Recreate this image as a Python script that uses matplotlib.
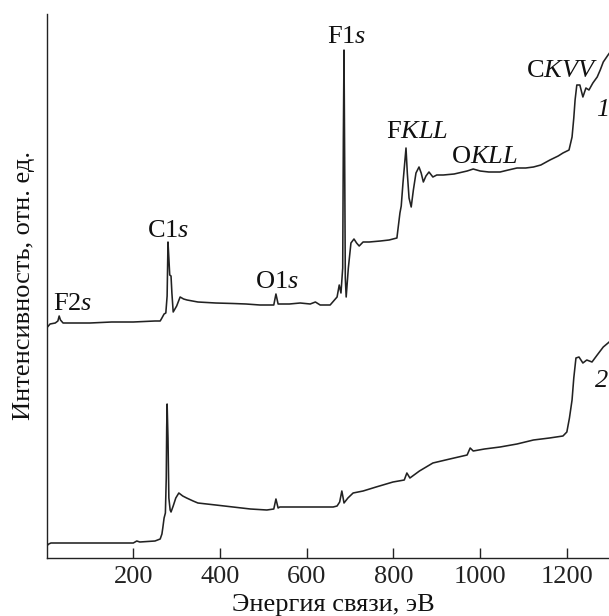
import matplotlib
matplotlib.use("Agg")
import matplotlib.pyplot as plt

# Survey XPS spectra: binding energy (eV) vs intensity (arb. units)
energy_1 = [0, 8, 20, 26, 29, 32, 38, 60, 100, 150, 200, 250, 262, 266, 271, 275,
            278, 280, 282, 284, 287, 289, 292, 300, 308, 316, 324, 349, 390, 430,
            460, 492, 520, 524, 529, 534, 560, 585, 608, 620, 631, 654, 670, 675,
            679, 683, 684.5, 686, 687.5, 689, 691, 696, 702, 709, 715, 721, 730,
            744, 770, 790, 808, 815, 818, 822, 826, 829, 832, 836, 841, 846, 852,
            859, 864, 869, 875, 882, 891, 900, 915, 940, 970, 984, 1000, 1020, 1046,
            1065, 1085, 1105, 1123, 1140, 1161, 1180, 1191, 1205, 1212, 1216, 1219,
            1223, 1230, 1237, 1244, 1251, 1260, 1270, 1277, 1284, 1295, 1300]
intensity_1 = [230, 234, 235, 237, 242, 238, 235, 235, 235, 236, 236, 237, 237, 240, 244, 245,
               262, 316, 300, 283, 282, 265, 246, 252, 261, 259, 258, 256, 255, 254.5,
               254, 253, 253, 253, 264, 254, 254, 255, 254, 256, 253, 253, 261, 273,
               265, 290, 420, 508, 400, 280, 261, 290, 315, 319, 315, 312, 316,
               316, 317, 318, 320, 345, 352, 375, 395, 410, 385, 360, 351, 368, 385,
               391, 385, 376, 382, 386, 381, 383, 383, 384, 387, 389, 387, 386, 386,
               388, 390, 390, 391, 393, 398, 402, 405, 408, 421, 440, 458,
               473, 473, 461, 470, 468, 475, 481, 488, 496, 503, 506]

energy_2 = [0, 5, 10, 50, 100, 150, 200, 208, 215, 250, 262, 266, 268, 271, 274, 276,
            277, 278, 280, 282, 285, 287, 292, 298, 305, 314, 323, 338, 349, 390,
            430, 470, 508, 524, 529, 534, 538, 580, 631, 661, 670, 676, 681, 684,
            686, 695, 707, 730, 760, 799, 825, 831, 838, 860, 891, 930, 970, 977,
            984, 1010, 1046, 1085, 1123, 1160, 1191, 1200, 1206, 1212, 1216, 1221,
            1228, 1237, 1246, 1258, 1270, 1284, 1295, 1300]
intensity_2 = [12, 14, 15, 15, 15, 15, 15, 17, 16, 17, 19, 24, 30, 40, 45, 80,
               130, 154, 120, 60, 48, 46, 52, 60, 65, 62, 60, 57, 55, 53,
               51, 49, 48, 49, 59, 50, 51, 51, 51, 51, 52, 56, 67, 60,
               55, 60, 65, 67, 71, 76, 78, 85, 80, 87, 95, 99, 103, 110,
               107, 109, 111, 114, 118, 120, 122, 126, 140, 158, 180, 200,
               201, 195, 198, 196, 203, 211, 215, 217]

x_ticks = [200, 400, 600, 800, 1000, 1200]

peak_labels = ["F2$s$", "C1$s$", "O1$s$", "F1$s$", "F$KLL$", "O$KLL$", "C$KVV$"]
peak_x = [59, 280, 532, 691, 855, 1009, 1189]
peak_y = [248, 321, 270, 515, 420, 395, 481]

curve_labels = ["1", "2"]
curve_label_x = [1268, 1266]
curve_label_y = [442, 171]

plt.rcParams["font.family"] = ["Liberation Serif", "DejaVu Serif"]
plt.rcParams["mathtext.fontset"] = "custom"
plt.rcParams["mathtext.rm"] = "Liberation Serif"
plt.rcParams["mathtext.it"] = "Liberation Serif:italic"

FS = 19
fig = plt.figure(figsize=(6.09, 6.16), dpi=100)
W, H = 609.0, 616.0
ax = fig.add_axes([46.6 / W, 58 / H, 563.6 / W, 544 / H])

line_color = "#222222"
ax.plot(energy_1, intensity_1, color=line_color, lw=1.15)
ax.plot(energy_2, intensity_2, color=line_color, lw=1.15)

ax.set_xlim(0, 1300)
ax.set_ylim(0, 544)
ax.set_xticks(x_ticks)
ax.set_yticks([])
ax.tick_params(axis="x", direction="in", length=7, width=1.0, pad=6,
               labelsize=FS, colors="#222222")
for side in ("top", "right"):
    ax.spines[side].set_visible(False)
for side in ("left", "bottom"):
    ax.spines[side].set_linewidth(1.0)
    ax.spines[side].set_color("#222222")

for lab, xx, yy in zip(peak_labels, peak_x, peak_y):
    ax.text(xx, yy, lab, ha="center", va="baseline", fontsize=FS, color="#111111")

for lab, xx, yy in zip(curve_labels, curve_label_x, curve_label_y):
    ax.text(xx, yy, lab, style="italic", ha="left", va="baseline", fontsize=FS,
            color="#111111", clip_on=False)

fig.text(333 / W, (H - 611) / H, "Энергия связи, эВ", ha="center", va="baseline",
         fontsize=FS, color="#111111")
fig.text(24 / W, (H - 285) / H, "Интенсивность, отн. ед.", ha="center", va="center",
         rotation=90, fontsize=FS, color="#111111")

fig.savefig("out.png", dpi=100)
